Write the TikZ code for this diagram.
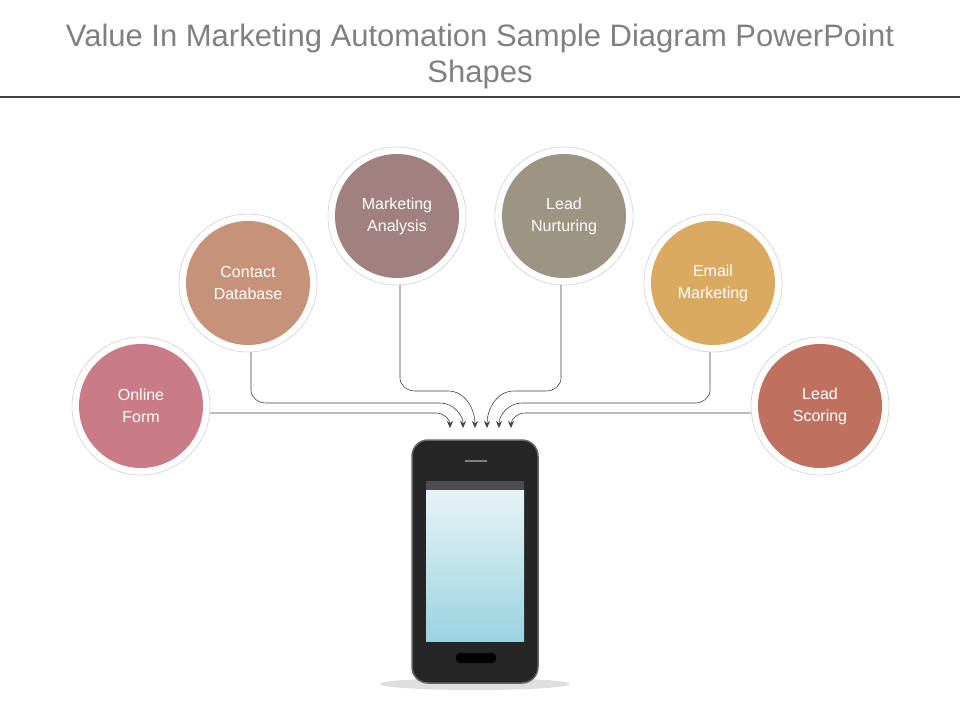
\documentclass[tikz,border=0pt]{standalone}
\usepackage{fontspec}
\setmainfont{Liberation Sans}
\usetikzlibrary{arrows.meta,calc}
\definecolor{cOnline}{HTML}{C97B86}
\definecolor{cContact}{HTML}{C6937A}
\definecolor{cMarket}{HTML}{A18081}
\definecolor{cNurture}{HTML}{9C9584}
\definecolor{cEmail}{HTML}{D9AA60}
\definecolor{cScoring}{HTML}{C0705F}
\definecolor{titlegray}{HTML}{808080}
\definecolor{scrTop}{HTML}{E6F3F6}
\definecolor{scrBot}{HTML}{9BD3E0}
\tikzset{
  ring/.style={circle, minimum size=138pt, fill=white, draw=black!15, line width=0.8pt},
  bubble/.style={circle, minimum size=124pt, fill=#1, inner sep=0pt,
    text=white, align=center, font=\fontsize{16}{22}\selectfont},
  wire/.style={draw=black!75, line width=0.6pt, -{Stealth[length=7pt,width=6pt]}}
}
\begin{document}
\begin{tikzpicture}[x=1pt,y=-1pt]
    \useasboundingbox (0,0) rectangle (960,720);
    % title
    \node[text=titlegray, align=center, font=\fontsize{31}{36}\selectfont] (title) at (480,56)
      {Value In Marketing Automation Sample Diagram PowerPoint\\Shapes};
    \draw[black!75, line width=1.5pt] (0,97) -- (960,97);
    % bubbles
    \foreach \cx/\cy/\cc/\nm/\txt in {141/406/cOnline/of/Online\\Form,
        248/283/cContact/cd/Contact\\Database,
        397/216/cMarket/ma/Marketing\\Analysis,
        564/216/cNurture/ln/Lead\\Nurturing,
        713/283/cEmail/em/Email\\Marketing,
        820/406/cScoring/ls/Lead\\Scoring}
      {\node[ring] (\nm) at (\cx,\cy) {};
       \node[bubble=\cc] (\nm t) at (\cx,\cy) {\txt};}
    % arrow ends
    \coordinate (a1) at (450,428);
    \coordinate (a2) at (463,428);
    \coordinate (a3) at (475,428);
    \coordinate (a4) at (487,428);
    \coordinate (a5) at (499,428);
    \coordinate (a6) at (511,428);
    \draw[wire] (of.east |- 0,413) -- (436,413) to[out=0,in=90] (a1);
    \draw[wire] (251,352) -- (251,390) to[out=-90,in=180] (266,403) -- (440,403) to[out=0,in=90] (a2);
    \draw[wire] (400,285) -- (400,378) to[out=-90,in=180] (415,391) -- (448,391) to[out=0,in=90] (a3);
    \draw[wire] (561,285) -- (561,378) to[out=-90,in=0] (546,391) -- (514,391) to[out=180,in=90] (a4);
    \draw[wire] (710,352) -- (710,390) to[out=-90,in=0] (695,403) -- (522,403) to[out=180,in=90] (a5);
    \draw[wire] (ls.west |- 0,413) -- (525,413) to[out=180,in=90] (a6);
    % phone
    \fill[black!25, opacity=0.5] (475,684) ellipse (95 and 6);
    \node[draw=black!60, line width=1.5pt, fill=black!85, rounded corners=16pt,
      minimum width=126pt, minimum height=243pt] (phone) at (475,561.5) {};
    \node[fill=black!70, minimum width=98pt, minimum height=9pt, inner sep=0] (bar) at (475,485) {};
    \node[minimum width=98pt, minimum height=151pt, inner sep=0,
      shade, shading angle=135, top color=scrTop, bottom color=scrBot] (screen) at (475,565.5) {};
    \node[fill=black, rounded corners=4pt, minimum width=40pt, minimum height=10pt, inner sep=0] (home) at (476,658) {};
    \node[fill=black!50, minimum width=22pt, minimum height=2pt, inner sep=0] (speaker) at (476,461) {};
\end{tikzpicture}
\end{document}
